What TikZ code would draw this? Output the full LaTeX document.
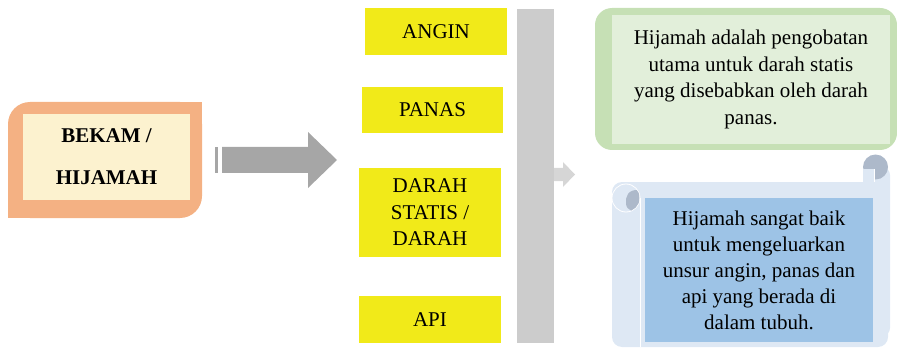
\documentclass[tikz,border=0pt]{standalone}
\usepackage{fontspec}
\setmainfont{Liberation Serif}
\definecolor{orangeC}{HTML}{F4B183}
\definecolor{creamC}{HTML}{FCF2CF}
\definecolor{yellowC}{HTML}{F1EA19}
\definecolor{grayA}{HTML}{A6A6A6}
\definecolor{barC}{HTML}{CCCCCC}
\definecolor{lightA}{HTML}{D6D6D6}
\definecolor{greenO}{HTML}{C6E0B5}
\definecolor{greenI}{HTML}{E2EFDA}
\definecolor{scrollC}{HTML}{DEE8F4}
\definecolor{blueI}{HTML}{9DC3E6}
\definecolor{curlC}{HTML}{ADB9CA}
\tikzset{
  ybox/.style={fill=yellowC, inner sep=0pt, align=center, font=\fontsize{21}{26.5}\selectfont},
  textbox/.style={inner sep=0pt, align=center, font=\fontsize{21}{26.7}\selectfont},
}
\begin{document}
\begin{tikzpicture}[x=1pt,y=-1pt]
\useasboundingbox (0,0) rectangle (897,350);
% left box
\fill[orangeC, rounded corners=22pt] (8,102) rectangle (202,218);
\fill[orangeC] (150,102) rectangle (202,150);
\fill[orangeC] (8,170) rectangle (60,218);
\node[fill=creamC, inner sep=0pt, minimum width=167pt, minimum height=86pt,
      font=\fontsize{21}{42}\selectfont\bfseries, align=center] (bekam) at (106.5,157) {BEKAM /\\HIJAMAH};
% big arrow
\fill[grayA] (215,147) rectangle (218,173);
\fill[grayA] (222,147) -- (308,147) -- (308,132) -- (337,160) -- (308,188) -- (308,173) -- (222,173) -- cycle;
% yellow boxes
\node[ybox, minimum width=142pt, minimum height=47pt] (angin) at (436,31.5) {ANGIN};
\node[ybox, minimum width=141pt, minimum height=46pt] (panas) at (432.5,110) {PANAS};
\node[ybox, minimum width=142pt, minimum height=89pt] (darah) at (430,212.5) {DARAH\\STATIS /\\DARAH};
\node[ybox, minimum width=142pt, minimum height=47pt] (api) at (430,319.5) {API};
% bar
\node[fill=barC, inner sep=0pt, minimum width=37pt, minimum height=334pt] (bar) at (535.5,176) {};
% small arrow
\fill[lightA] (554,168) -- (563,168) -- (563,162) -- (575,174.5) -- (563,187) -- (563,181) -- (554,181) -- cycle;
% green box
\fill[greenO, rounded corners=17pt] (595,8) rectangle (897,150);
\node[textbox, fill=greenI, minimum width=278pt, minimum height=129pt] (green) at (751,79.5)
  {Hijamah adalah pengobatan\\utama untuk darah statis\\yang disebabkan oleh darah\\panas.};
% scroll
\fill[scrollC, rounded corners=10pt] (612,182) rectangle (888,347);
\fill[scrollC, rounded corners=8pt] (864,167) rectangle (890,336);
\fill[curlC] (875.5,167) circle[radius=12.5pt];
\fill[scrollC] (863,169) -- (874,169) -- (874,184) -- (863,184) -- cycle;
\draw[white, line width=0.6pt] (874,169) -- (874,182);
\fill[scrollC, draw=white, line width=0.8pt] (626,198) circle[radius=14pt];
\begin{scope}
  \clip (626,198) circle[radius=13.6pt];
  \fill[curlC] (639,190) .. controls (628,189) and (625,197) .. (626,204)
                         .. controls (627,211) and (634,212) .. (639,211) -- cycle;
\end{scope}
\draw[white, line width=0.8pt] (640,198) -- (640,347);
\node[textbox, fill=blueI, minimum width=228pt, minimum height=144pt,
      font=\fontsize{21}{26}\selectfont] (blue) at (759,270)
  {Hijamah sangat baik\\untuk mengeluarkan\\unsur angin, panas dan\\api yang berada di\\dalam tubuh.};
\end{tikzpicture}
\end{document}
